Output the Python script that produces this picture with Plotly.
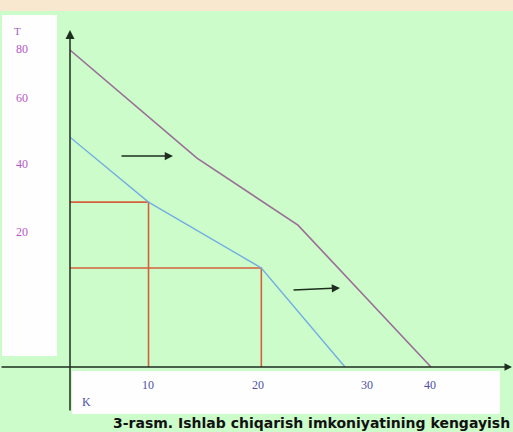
import plotly.graph_objects as go

# ---- data ----
ppf_new_x = [0, 14.07, 25.26, 40]      # expanded PPF (purple)
ppf_new_y = [80, 52.7, 35.8, 0]
ppf_old_x = [0, 8.7, 21.2, 30.47]      # initial PPF (blue)
ppf_old_y = [58.0, 41.6, 25.0, 0]
alloc_x = [8.7, 21.2]                  # production points (red guides)
alloc_y = [41.6, 25.0]

x_tick_vals = [8.64, 20.83, 32.91, 39.89]
x_tick_text = ["10", "20", "30", "40"]
y_tick_vals = [80.3, 67.89, 51.23, 34.07]
y_tick_text = ["80", "60", "40", "20"]

caption = "3-rasm. Ishlab chiqarish imkoniyatining kengayish"

W, H = 513, 432
L, R, T, B = 70, 0, 12, 65
XS = 9.025   # px per x unit
YS = 3.9625  # px per y unit
x_max = (W - L - R) / XS
y_max = (H - T - B) / YS

def px(xp):
    return (xp - L) / (W - L - R)

def py(yp):
    return (H - B - yp) / (H - T - B)

def dx(xp):
    return (xp - L) / XS

def dy(yp):
    return (H - B - yp) / YS

GREEN = "#cdfccb"
fig = go.Figure()

# red guide lines
for ax_, ay_ in zip(alloc_x, alloc_y):
    fig.add_trace(go.Scatter(x=[0, ax_, ax_], y=[ay_, ay_, 0], mode="lines",
                             line=dict(color="#d4603c", width=1.6),
                             hoverinfo="skip", showlegend=False))

fig.add_trace(go.Scatter(x=ppf_old_x, y=ppf_old_y, mode="lines",
                         line=dict(color="#72aee0", width=1.4), showlegend=False))
fig.add_trace(go.Scatter(x=ppf_new_x, y=ppf_new_y, mode="lines",
                         line=dict(color="#9a6e96", width=1.6), showlegend=False))

shapes = [
    # beige top strip
    dict(type="rect", xref="paper", yref="paper", x0=px(0), x1=px(W), y0=py(11), y1=py(-2),
         fillcolor="#f9e8d0", line=dict(width=0), layer="below"),
    # white left box
    dict(type="rect", xref="paper", yref="paper", x0=px(2), x1=px(57), y0=py(356), y1=py(15),
         fillcolor="#fefefe", line=dict(width=0), layer="below"),
    # white bottom box
    dict(type="rect", xref="paper", yref="paper", x0=px(72), x1=px(500), y0=py(414), y1=py(371),
         fillcolor="#fefefe", line=dict(width=0), layer="below"),
]

annotations = []
# axes with arrow heads
annotations.append(dict(x=0, y=dy(30), ax=0, ay=dy(412), axref="x", ayref="y",
                        showarrow=True, arrowhead=2, arrowsize=1.2,
                        arrowwidth=1.5, arrowcolor="#1e2e1e", text=""))
annotations.append(dict(x=dx(512), y=0, ax=dx(0), ay=0, axref="x", ayref="y",
                        showarrow=True, arrowhead=2, arrowsize=1.0,
                        arrowwidth=1.5, arrowcolor="#1e2e1e", text=""))
# shift arrows
annotations.append(dict(x=11.41, y=53.25, ax=5.54, ay=53.25, axref="x", ayref="y",
                        showarrow=True, arrowhead=2, arrowsize=1.1, arrowwidth=1.5,
                        arrowcolor="#1e2e1e", text=""))
annotations.append(dict(x=29.92, y=19.94, ax=24.6, ay=19.43, axref="x", ayref="y",
                        showarrow=True, arrowhead=2, arrowsize=1.1, arrowwidth=1.5,
                        arrowcolor="#1e2e1e", text=""))
# axis names
annotations.append(dict(xref="paper", yref="paper", x=px(17), y=py(31), text="T", showarrow=False,
                        xanchor="center", yanchor="middle",
                        font=dict(family="Liberation Serif", size=11, color="#a060c0")))
annotations.append(dict(xref="paper", yref="paper", x=px(86), y=py(402), text="K", showarrow=False,
                        xanchor="center", yanchor="middle",
                        font=dict(family="Liberation Serif", size=12, color="#5050a8")))
# caption
annotations.append(dict(xref="paper", yref="paper", x=px(512), y=py(423), xanchor="right",
                        yanchor="middle",
                        text="<b>" + caption + "</b>", showarrow=False,
                        font=dict(family="DejaVu Sans", size=14, color="#111111")))

fig.update_layout(
    width=W, height=H,
    margin=dict(l=L, r=R, t=T, b=B, pad=0),
    paper_bgcolor=GREEN, plot_bgcolor=GREEN,
    shapes=shapes, annotations=annotations, showlegend=False,
    xaxis=dict(range=[0, x_max], showgrid=False, zeroline=False, showline=False,
               tickvals=x_tick_vals, ticktext=x_tick_text, ticks="",
               ticklabelstandoff=9, automargin=False,
               tickfont=dict(family="Liberation Serif", size=12, color="#5050a8")),
    yaxis=dict(range=[0, y_max], showgrid=False, zeroline=False, showline=False,
               tickvals=y_tick_vals, ticktext=y_tick_text, ticks="",
               ticklabelstandoff=41, automargin=False,
               tickfont=dict(family="Liberation Serif", size=12, color="#b858c8")),
)

fig.write_html("out.html", config={"displayModeBar": False},
               post_script="document.body.style.margin='0';document.body.style.overflow='hidden';")
